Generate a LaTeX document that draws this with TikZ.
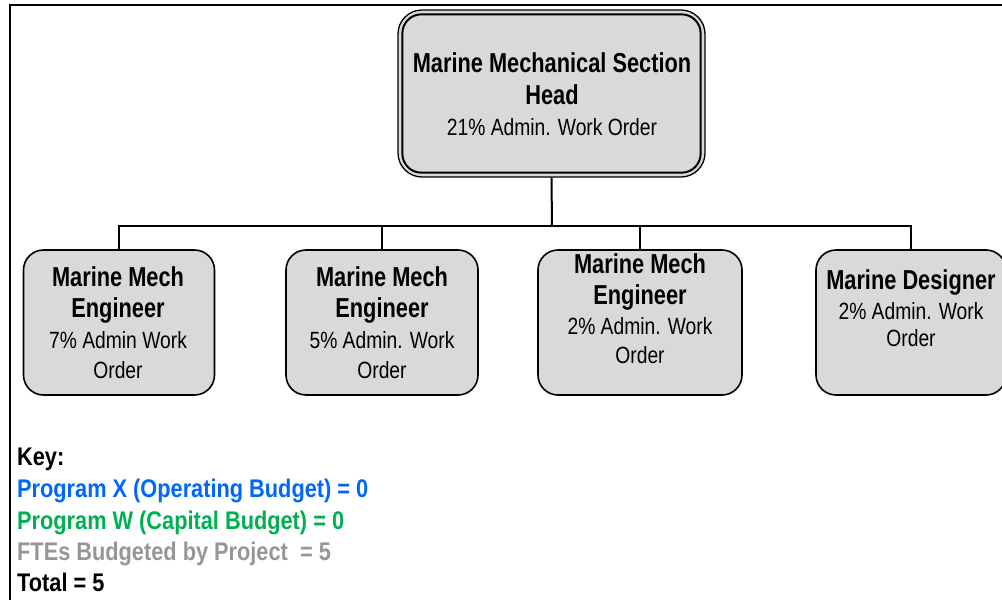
\documentclass[tikz,border=0pt]{standalone}
\usepackage{fontspec}
\newfontfamily\narfam{Liberation Sans}[FakeStretch=0.82]
\newfontfamily\narbfam{Liberation Sans}[FakeStretch=0.795]
\newfontfamily\keyfam{Liberation Sans}[FakeStretch=0.853]
\newcommand\boxboldfont{\narbfam\fontsize{27.4}{31}\selectfont\bfseries}
\newcommand\boxregfont{\narfam\fontsize{23.5}{29}\selectfont}
\newcommand\keyfont{\keyfam\fontsize{25.5}{31}\selectfont\bfseries}
\definecolor{boxgray}{RGB}{217,217,217}
\definecolor{keyblue}{RGB}{0,102,255}
\definecolor{keygreen}{RGB}{0,176,80}
\definecolor{keygray}{RGB}{150,150,150}
\tikzset{
  orgbox/.style={draw, line width=1.6pt, fill=boxgray, rounded corners=20pt, minimum height=145pt, inner sep=0pt},
  conn/.style={line width=2pt},
  frame/.style={line width=2.2pt, line cap=rect, line join=miter},
  bt/.style={font=\boxboldfont, inner sep=0pt, anchor=base},
  rt/.style={font=\boxregfont, inner sep=0pt, anchor=base},
  kt/.style={font=\keyfont, inner sep=0pt, anchor=base west},
}
\begin{document}
\begin{tikzpicture}[x=1pt, y=-1pt]
\useasboundingbox (0,0) rectangle (1002,600);
% frame
\draw[frame] (10,601) -- (10,5) -- (1003,5);
% head box
\node[draw, line width=1.3pt, fill=boxgray, rounded corners=24pt, minimum width=307pt, minimum height=167pt, inner sep=0pt] (head) at (551.5,93.5) {};
\draw[line width=2pt, rounded corners=19pt] ([shift={(5,5)}]head.north west) rectangle ([shift={(-5,-5)}]head.south east);
\node[bt] (h1) at (552,72.7) {Marine Mechanical Section};
\node[bt] (h2) at (552,104) {Head};
\node[rt] (h3) at (552,135) {21\% Admin. Work Order};
% staff boxes
\node[orgbox, minimum width=191pt] (b1) at (119,322.5) {};
\node[orgbox, minimum width=192pt] (b2) at (382,322.5) {};
\node[orgbox, minimum width=204pt] (b3) at (640,322.5) {};
\node[orgbox, minimum width=190pt] (b4) at (911,322.5) {};
% connectors
\coordinate (bus) at (552,226);
\draw[conn] (head.south) -- (bus);
\draw[conn] (b1.north) |- (bus) -| (b4.north);
\draw[conn] (b2.north) -- (b2.north |- bus);
\draw[conn] (b3.north) -- (b3.north |- bus);
% box texts
\node[bt] (t11) at (118,286.7) {Marine Mech};
\node[bt] (t12) at (118,317.5) {Engineer};
\node[rt] (t13) at (118,348.3) {7\% Admin Work};
\node[rt] (t14) at (118,378.3) {Order};
\node[bt] (t21) at (382,286.7) {Marine Mech};
\node[bt] (t22) at (382,317.5) {Engineer};
\node[rt] (t23) at (382,348.3) {5\% Admin. Work};
\node[rt] (t24) at (382,378.3) {Order};
\node[bt] (t31) at (640,273.3) {Marine Mech};
\node[bt] (t32) at (640,304) {Engineer};
\node[rt] (t33) at (640,334) {2\% Admin. Work};
\node[rt] (t34) at (640,363.3) {Order};
\node[bt] (t41) at (911,289.3) {Marine Designer};
\node[rt] (t42) at (911,319.3) {2\% Admin. Work};
\node[rt] (t43) at (911,346.7) {Order};
% key
\node[kt] (k0) at (17,465) {Key:};
\node[kt, text=keyblue] (k1) at (17,497) {Program X (Operating Budget) = 0};
\node[kt, text=keygreen] (k2) at (17,529) {Program W (Capital Budget) = 0};
\node[kt, text=keygray] (k3) at (17,560.7) {FTEs Budgeted by Project~ = 5};
\node[kt] (k4) at (17,591.7) {Total = 5};
\end{tikzpicture}
\end{document}
